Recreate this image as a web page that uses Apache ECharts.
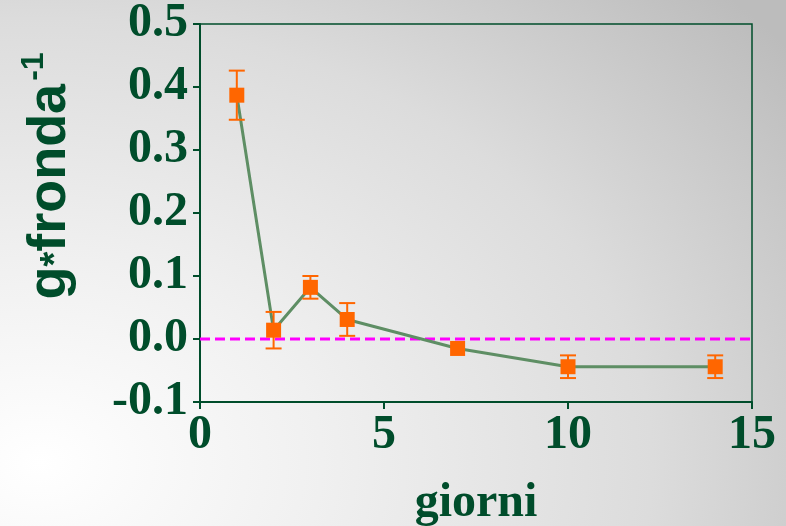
<!DOCTYPE html>
<html>
<head>
<meta charset="utf-8">
<script src="https://cdn.jsdelivr.net/npm/echarts@6/dist/echarts.min.js"></script>
<style>
  html, body { margin: 0; padding: 0; }
  body {
    width: 786px; height: 526px;
    background: radial-gradient(ellipse 120% 130% at 5% 88%, #ffffff 0%, #f0f0f0 30%, #dcdcdc 65%, #bcbcbc 100%);
  }
  #chart { width: 786px; height: 526px; }
</style>
</head>
<body>
<div id="chart"></div>
<script>
// data
const giorni = [1, 2, 3, 4, 7, 10, 14]
const valori = [0.387, 0.014, 0.082, 0.031, -0.015, -0.044, -0.044]
const errori = [0.039, 0.029, 0.018, 0.026, 0, 0.018, 0.018]
const xTicks = [0, 5, 10, 15]
const yTicks = [-0.1, 0.0, 0.1, 0.2, 0.3, 0.4, 0.5]
const zeroLine = [[0, 0], [15.15, 0]]

const green = '#004d2b'
const orange = '#ff6600'

const chart = echarts.init(document.getElementById('chart'))

const punti = giorni.map((g, i) => [g, valori[i]])
const barre = giorni.map((g, i) => [g, valori[i] - errori[i], valori[i] + errori[i]])

chart.setOption({
  animation: false,
  grid: {
    left: 200, top: 24, right: 34, bottom: 124,
    outerBoundsMode: 'none',
    show: true, borderColor: green, borderWidth: 1.5, backgroundColor: 'transparent'
  },
  graphic: [{
    type: 'text',
    x: 50, y: 176,
    rotation: Math.PI / 2,
    style: {
      text: '{a|g}{b|*}{a|fronda}{s|-1}',
      align: 'center',
      verticalAlign: 'middle',
      fill: green,
      rich: {
        a: { fontFamily: 'Liberation Sans', fontWeight: 'bold', fontSize: 54, fill: green },
        b: { fontFamily: 'Liberation Sans', fontWeight: 'bold', fontSize: 38, fill: green, padding: [14, 0, 0, 0] },
        s: { fontFamily: 'Liberation Sans', fontWeight: 'bold', fontSize: 32, fill: green, padding: [0, 0, 32, 3] }
      }
    }
  }],
  xAxis: {
    type: 'value',
    min: 0, max: 15, interval: 5,
    name: 'giorni',
    nameLocation: 'middle',
    nameGap: 78,
    nameTextStyle: { fontFamily: 'Liberation Serif', fontWeight: 'bold', fontSize: 48, color: green },
    axisLine: { show: true, onZero: false, lineStyle: { color: green, width: 2 } },
    axisTick: { show: true, length: 7, lineStyle: { color: green, width: 2 } },
    axisLabel: {
      margin: 10,
      fontFamily: 'Liberation Serif', fontWeight: 'bold', fontSize: 48, color: green,
      formatter: v => xTicks.includes(v) ? String(v) : ''
    },
    splitLine: { show: false }
  },
  yAxis: {
    type: 'value',
    min: -0.1, max: 0.5, interval: 0.1,
    axisLine: { show: true, onZero: false, lineStyle: { color: green, width: 2 } },
    axisTick: { show: true, length: 7, lineStyle: { color: green, width: 2 } },
    axisLabel: {
      margin: 12,
      fontFamily: 'Liberation Serif', fontWeight: 'bold', fontSize: 48, color: green,
      formatter: v => {
        const t = yTicks.find(k => Math.abs(k - v) < 1e-9)
        return t === undefined ? '' : t.toFixed(1)
      }
    },
    splitLine: { show: false }
  },
  series: [
    {
      type: 'line',
      data: zeroLine,
      clip: false,
      symbol: 'none',
      silent: true,
      lineStyle: { color: '#ff00ff', width: 3, type: [10, 5] },
      z: 1
    },
    {
      type: 'line',
      data: punti,
      smooth: false,
      symbol: 'none',
      lineStyle: { color: '#5e8e64', width: 3 },
      z: 2
    },
    {
      type: 'custom',
      data: barre,
      z: 3,
      renderItem: (params, api) => {
        const x = api.value(0)
        const lo = api.coord([x, api.value(1)])
        const hi = api.coord([x, api.value(2)])
        const w = 8
        const st = { stroke: orange, lineWidth: 2 }
        if (Math.abs(hi[1] - lo[1]) < 1) return null
        return {
          type: 'group',
          children: [
            { type: 'line', shape: { x1: hi[0], y1: hi[1], x2: lo[0], y2: lo[1] }, style: st },
            { type: 'line', shape: { x1: hi[0] - w, y1: hi[1], x2: hi[0] + w, y2: hi[1] }, style: st },
            { type: 'line', shape: { x1: lo[0] - w, y1: lo[1], x2: lo[0] + w, y2: lo[1] }, style: st }
          ]
        }
      }
    },
    {
      type: 'scatter',
      data: punti,
      symbol: 'rect',
      symbolSize: 15,
      itemStyle: { color: orange, opacity: 1 },
      z: 4
    }
  ]
})
</script>
</body>
</html>
